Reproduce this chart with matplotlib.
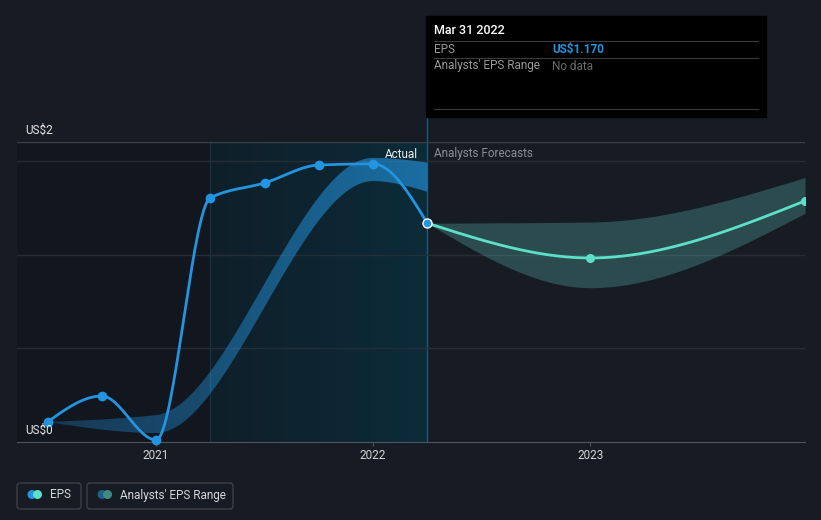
import numpy as np
import matplotlib.pyplot as plt
from matplotlib.patches import Rectangle, FancyBboxPatch, Circle

plt.rcParams['font.family'] = ['Roboto', 'DejaVu Sans']

# EPS reale (trimestri, anno decimale)
eps_x = [2020.5, 2020.75, 2021.0, 2021.25, 2021.5, 2021.75, 2022.0, 2022.25]
eps_y = [0.107, 0.246, 0.011, 1.305, 1.385, 1.481, 1.487, 1.170]

# range storico delle stime degli analisti
rng_x = [2020.5, 2021.0, 2022.0, 2022.25]
rng_hi = [0.107, 0.144, 1.519, 1.494]
rng_lo = [0.107, 0.048, 1.395, 1.338]

# previsioni
fc_x = [2022.25, 2023.0, 2023.99]
fc_y = [1.170, 0.984, 1.289]
fc_hi = [1.170, 1.176, 1.414]
fc_lo = [1.170, 0.825, 1.223]

year_ticks = [2021, 2022, 2023]
grid_vals = [0.5, 1.0, 1.5]

BG = '#161b24'
BLUE = '#2394df'
TEAL = '#5ce0c9'


# curva monotona (stile d3 curveMonotoneX) solo per disegnare
def smooth(x, y, n=400):
    x = np.asarray(x, float)
    y = np.asarray(y, float)
    h = np.diff(x)
    d = np.diff(y) / h
    m = np.zeros(len(x))
    for i in range(1, len(x) - 1):
        if d[i - 1] * d[i] > 0:
            m[i] = 3 * (h[i - 1] + h[i]) / ((2 * h[i] + h[i - 1]) / d[i - 1] + (h[i] + 2 * h[i - 1]) / d[i])
    m[0] = (3 * d[0] - m[1]) / 2
    m[-1] = (3 * d[-1] - m[-2]) / 2
    xs = np.linspace(x[0], x[-1], n)
    idx = np.clip(np.searchsorted(x, xs) - 1, 0, len(x) - 2)
    t = (xs - x[idx]) / h[idx]
    h00 = 2 * t**3 - 3 * t**2 + 1
    h10 = t**3 - 2 * t**2 + t
    h01 = -2 * t**3 + 3 * t**2
    h11 = t**3 - t**2
    ys = h00 * y[idx] + h10 * h[idx] * m[idx] + h01 * y[idx + 1] + h11 * h[idx] * m[idx + 1]
    return xs, ys


fig = plt.figure(figsize=(8.21, 5.2), dpi=100, facecolor=BG)
ax = fig.add_axes([17 / 821, 78 / 520, 788 / 821, 300 / 520])
ax.set_facecolor(BG)

x0, x1 = 2020.3594, 2023.99
y0, y1 = 0, 1.604

# zone di sfondo
ax.axvspan(x0, 2021.25, color='#12161e', lw=0, zorder=0)
grad = np.linspace(0, 1, 256)[None, :]
c_a = np.array([15, 31, 41]) / 255
c_b = np.array([12, 43, 57]) / 255
img = c_a[None, None, :] * (1 - grad[..., None]) + c_b[None, None, :] * grad[..., None]
ax.imshow(img, extent=[2021.25, 2022.25, y0, y1], aspect='auto', zorder=0.5)
ax.axvline(2021.25, color='#173343', lw=1, zorder=1)
ax.axvline(2022.25, ymax=(442 - 118) / 300, color='#1b5a78', lw=1, zorder=1, clip_on=False)

for g in grid_vals:
    ax.axhline(g, color='#262d37', lw=1, zorder=1)
ax.axhline(y1, color='#3a3f48', lw=1, zorder=1)

# banda storica con sfumatura
sx, shi = smooth(rng_x, rng_hi)
_, slo = smooth(rng_x, rng_lo)
poly = ax.fill_between(sx, slo, shi, color='none', lw=0)
alpha = np.linspace(0.28, 0.64, 256)[None, :]
band = np.zeros((1, 256, 4))
band[..., :3] = np.array([35, 148, 223]) / 255
band[..., 3] = alpha
im = ax.imshow(band, extent=[rng_x[0], rng_x[-1], y0, y1], aspect='auto', zorder=2)
im.set_clip_path(poly.get_paths()[0], transform=ax.transData)

# banda previsioni
fx, fhi = smooth(fc_x, fc_hi)
_, flo = smooth(fc_x, fc_lo)
ax.fill_between(fx, flo, fhi, color='#55a79f', alpha=0.35, lw=0, zorder=2)

# linee
ex, ey = smooth(eps_x, eps_y)
ax.plot(ex, ey, color=BLUE, lw=2, zorder=4, clip_on=False, solid_capstyle='round')
ax.plot(eps_x[:-1], eps_y[:-1], 'o', color=BLUE, ms=6, zorder=5, clip_on=False)
fx2, fy2 = smooth(fc_x, fc_y)
ax.plot(fx2, fy2, color=TEAL, lw=2, zorder=4)
ax.plot(fc_x[1:], fc_y[1:], 'o', color=TEAL, ms=5.5, zorder=5)
ax.plot([eps_x[-1]], [eps_y[-1]], 'o', color=BLUE, mec='white', mew=1, ms=6.5, zorder=6, clip_on=False)

ax.set_xlim(x0, x1)
ax.set_ylim(y0, y1)
for s in ['top', 'left', 'right']:
    ax.spines[s].set_visible(False)
ax.spines['bottom'].set_color('#50555d')
ax.spines['bottom'].set_zorder(3)
ax.set_yticks([])
ax.set_xticks(year_ticks)
ax.set_xticklabels([str(y) for y in year_ticks])
ax.tick_params(axis='x', colors='#50555d', labelcolor='#d6d6d6', labelsize=8.5, length=3, pad=2)

# overlay in pixel per testi, tooltip e legenda
ov = fig.add_axes([0, 0, 1, 1], zorder=5)
ov.set_xlim(0, 821)
ov.set_ylim(520, 0)
ov.axis('off')
ov.patch.set_alpha(0)

ov.text(25, 130, 'US$2', color='#e6e6e6', fontsize=8.5, va='center')
ov.text(25, 430, 'US$0', color='#e6e6e6', fontsize=8.5, va='center')
ov.text(418, 154, 'Actual', color='#f0f0f0', fontsize=8.5, va='center', ha='right')
ov.text(434, 154, 'Analysts Forecasts', color='#8a8f96', fontsize=8.5, va='center')

# tooltip
ov.add_patch(Rectangle((426, 16), 340, 101, color='black', zorder=1))
for yl in [41, 58, 109]:
    ov.plot([434, 758], [yl, yl], color='#3a3a3a', lw=0.8, zorder=2)
ov.text(434, 31, 'Mar 31 2022', color='white', fontsize=9, va='center', weight='medium', zorder=3)
ov.text(434, 49.5, 'EPS', color='#9a9a9a', fontsize=8.5, va='center', zorder=3)
ov.text(552, 49.5, 'US$1.170', color=BLUE, fontsize=8.5, va='center', weight='bold', zorder=3)
ov.text(434, 66, "Analysts' EPS Range", color='#9a9a9a', fontsize=8.5, va='center', zorder=3)
ov.text(552, 66, 'No data', color='#6a6a6a', fontsize=8.5, va='center', zorder=3)

# legenda
ov.add_patch(FancyBboxPatch((17, 483), 64, 26, boxstyle='round,pad=0,rounding_size=3',
                            fc='none', ec='#3b4048', lw=1))
ov.add_patch(Circle((32, 494.5), 3.8, color=BLUE))
ov.add_patch(Circle((37.5, 494.5), 3.8, color=TEAL))
ov.text(50, 495, 'EPS', color='#d6d6d6', fontsize=8.5, va='center')
ov.add_patch(FancyBboxPatch((87, 483), 146, 26, boxstyle='round,pad=0,rounding_size=3',
                            fc='none', ec='#3b4048', lw=1))
ov.add_patch(Circle((102, 494.5), 3.8, color='#1f5f8a'))
ov.add_patch(Circle((107.5, 494.5), 3.8, color='#3f8a85'))
ov.text(120, 495, "Analysts' EPS Range", color='#d6d6d6', fontsize=8.5, va='center')

fig.savefig('out.png', dpi=100, facecolor=BG)
